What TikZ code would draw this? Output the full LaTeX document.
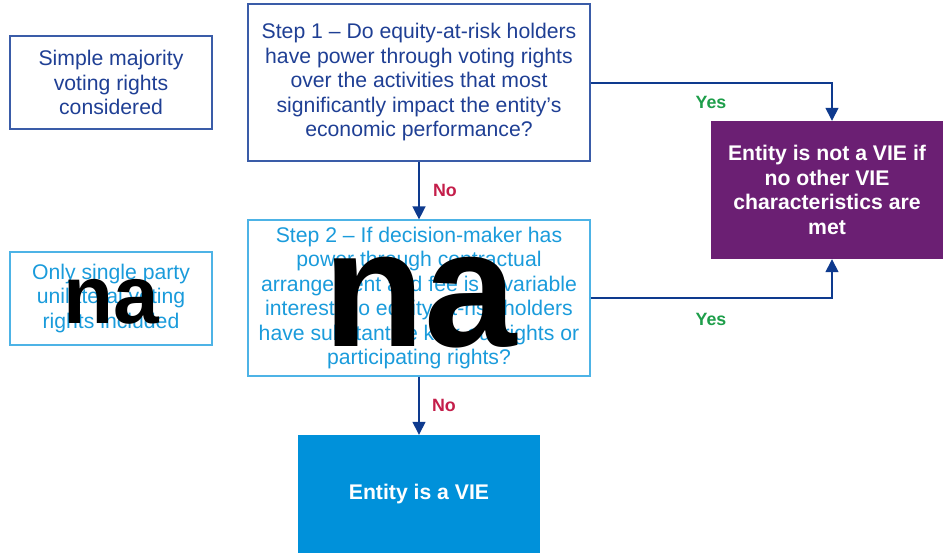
\documentclass[tikz,border=0pt]{standalone}
\usepackage{fontspec}
\setmainfont{Liberation Sans}
\usetikzlibrary{arrows.meta}
\definecolor{dkblue}{HTML}{1F3F94}
\definecolor{dkborder}{HTML}{3A5CA8}
\definecolor{ltblue}{HTML}{1A9BDB}
\definecolor{ltborder}{HTML}{4DB3E6}
\definecolor{vpurple}{HTML}{6B1F73}
\definecolor{vieblue}{HTML}{0091DA}
\definecolor{arrowblue}{HTML}{0E3A8E}
\definecolor{nored}{HTML}{C41E4A}
\definecolor{yesgreen}{HTML}{1E9E4A}
\tikzset{
  box/.style={draw, line width=1.2pt, inner sep=0pt, align=center,
    font=\fontsize{21.2}{24.5}\selectfont},
  darkbox/.style={box, draw=dkborder, text=dkblue},
  lightbox/.style={box, draw=ltborder, text=ltblue},
  fillbox/.style={inner sep=0pt, align=center, text=white,
    font=\bfseries\fontsize{21.2}{24.8}\selectfont},
  conn/.style={draw=arrowblue, line width=1.4pt, -{Triangle[length=13pt,width=13pt]}},
  lbl/.style={font=\bfseries\fontsize{17.8}{19}\selectfont},
  wm/.style={text=black, inner sep=0pt, anchor=base, font=\bfseries}
}
\begin{document}
\begin{tikzpicture}[x=1pt,y=-1pt]
\useasboundingbox (0,0) rectangle (943,554);
% boxes
\node[darkbox, minimum width=202pt, minimum height=93pt] (simple) at (111,82.5)
  {Simple majority\\voting rights\\considered};
\node[darkbox, minimum width=342pt, minimum height=157pt] (s1) at (419,82.5)
  {Step 1 -- Do equity-at-risk holders\\have power through voting rights\\over the activities that most\\significantly impact the entity's\\economic performance?};
\node[lightbox, minimum width=342pt, minimum height=156pt] (s2) at (419,298)
  {Step 2 -- If decision-maker has\\power through contractual\\arrangement and fee is a variable\\interest, do equity-at-risk holders\\have substantive kick-out rights or\\participating rights?};
\node[lightbox, minimum width=202pt, minimum height=93pt] (single) at (111,298.5)
  {Only single party\\unilateral voting\\rights included};
\node[fillbox, fill=vpurple, minimum width=232pt, minimum height=138pt] (notvie) at (827,190)
  {Entity is not a VIE if\\no other VIE\\characteristics are\\met};
\node[fillbox, fill=vieblue, minimum width=242pt, minimum height=118pt] (vie) at (419,494)
  {Entity is a VIE};
% connectors
\draw[conn] (s1.south) -- (s2.north);
\draw[conn] (s2.south) -- (vie.north);
\draw[conn] (s1.east |- 0,83) -| (notvie.north -| 832,0);
\draw[conn] (s2.east |- 0,298) -| (notvie.south -| 832,0);
% labels
\node[lbl, text=nored] (no1) at (445,190) {No};
\node[lbl, text=nored] (no2) at (444,405) {No};
\node[lbl, text=yesgreen] (yes1) at (711,102) {Yes};
\node[lbl, text=yesgreen] (yes2) at (711,319) {Yes};
% overlays
\node[wm, font=\bfseries\fontsize{166}{166}\selectfont] (na1) at (420,346) {na};
\node[wm, font=\bfseries\fontsize{82}{82}\selectfont] (na2) at (111,323) {na};
\end{tikzpicture}
\end{document}
